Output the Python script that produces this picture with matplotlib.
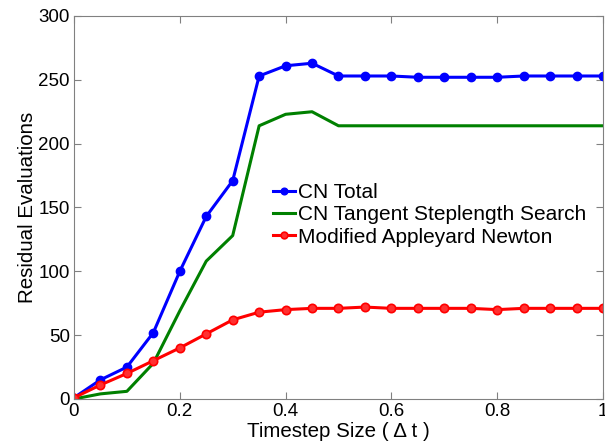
import matplotlib
matplotlib.use("Agg")
import matplotlib.pyplot as plt
import numpy as np

plt.rcParams['font.family'] = ['Liberation Sans', 'DejaVu Sans']

dt = [0.0, 0.05, 0.10, 0.15, 0.20, 0.25, 0.30, 0.35, 0.40, 0.45, 0.50,
      0.55, 0.60, 0.65, 0.70, 0.75, 0.80, 0.85, 0.90, 0.95, 1.00]
cn_total = [1, 15, 25, 52, 100, 143, 171, 253, 261, 263, 253,
            253, 253, 252, 252, 252, 252, 253, 253, 253, 253]
cn_tangent = [0, 4, 6, 28, 69, 108, 128, 214, 223, 225, 214,
              214, 214, 214, 214, 214, 214, 214, 214, 214, 214]
appleyard = [1, 11, 20, 30, 40, 51, 62, 68, 70, 71, 71,
             72, 71, 71, 71, 71, 70, 71, 71, 71, 71]

labels = ['CN Total', 'CN Tangent Steplength Search', 'Modified Appleyard Newton']

fig = plt.figure(figsize=(6.05, 4.48), dpi=100)
ax = fig.add_axes([0.1223, 0.1094, 0.8744, 0.8549])

ax.plot(dt, cn_total, '-o', color='#0000ff', lw=2.2, ms=6, label=labels[0])
ax.plot(dt, cn_tangent, '-', color='#008000', lw=2.2, label=labels[1])
ax.plot(dt, appleyard, '-o', color='#ff0000', lw=2.2, ms=6,
        mfc='#ff3030', mec='#ff0000', mew=1.2, label=labels[2])

ax.set_xlim(0, 1)
ax.set_ylim(0, 300)
ax.set_xticks([0, 0.2, 0.4, 0.6, 0.8, 1.0])
ax.set_xticklabels(['0', '0.2', '0.4', '0.6', '0.8', '1'])
ax.set_yticks([0, 50, 100, 150, 200, 250, 300])

for s in ax.spines.values():
    s.set_color('#808080')
    s.set_linewidth(0.8)
ax.tick_params(direction='in', top=True, right=True, length=5,
               color='#808080', labelsize=13.5, pad=3)

ax.set_xlabel('Timestep Size ( \u0394 t )', fontsize=14.8, labelpad=1)
ax.set_ylabel('Residual Evaluations', fontsize=14.8, labelpad=1)

leg = ax.legend(loc='upper left', bbox_to_anchor=(0.36, 0.585), frameon=False,
                fontsize=15, handlelength=1.05, handletextpad=0.15,
                labelspacing=0.15, borderaxespad=0, markerscale=0.8)

fig.savefig('out.png', dpi=100)
